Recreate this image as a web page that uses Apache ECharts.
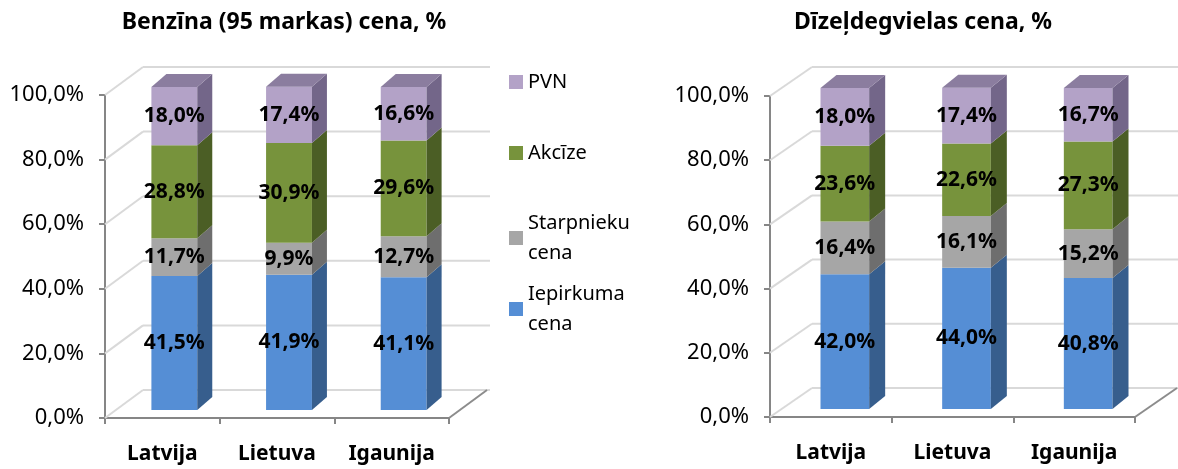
<!DOCTYPE html>
<html>
<head>
<meta charset="utf-8">
<script src="https://cdn.jsdelivr.net/npm/echarts@6/dist/echarts.min.js"></script>
<style>
html, body { margin: 0; padding: 0; background: #fff; }
#main { width: 1178px; height: 469px; }
</style>
</head>
<body>
<div id="main"></div>
<script>
// dati
var countries = ['Latvija', 'Lietuva', 'Igaunija'];
var benzIepirkuma = [41.5, 41.9, 41.1];
var benzStarpnieku = [11.7, 9.9, 12.7];
var benzAkcize = [28.8, 30.9, 29.6];
var benzPvn = [18.0, 17.4, 16.6];
var dizIepirkuma = [42.0, 44.0, 40.8];
var dizStarpnieku = [16.4, 16.1, 15.2];
var dizAkcize = [23.6, 22.6, 27.3];
var dizPvn = [18.0, 17.4, 16.7];
var yTicks = [0, 20, 40, 60, 80, 100];

var FONT = '"Noto Sans", sans-serif';

// 3D izskats katram grafikam: stabiņu nobīde, dziļums, aizmugures siena
var geoLeft = { shift: [12, -8], depth: [15, -13], wall: [38, -28], wallRight: 41 };
var geoRight = { shift: [14, -8], depth: [16, -13], wall: [42, -29], wallRight: 45 };

var colors = {
    iep: { front: '#558ED5', side: '#375E8D' },
    sta: { front: '#A6A6A6', side: '#6E6E6E' },
    akc: { front: '#77933C', side: '#4B5E25' },
    pvn: { front: '#B3A2C7', side: '#736689', top: '#8B7D9F' }
};

function fmt(v) {
    return v.toFixed(1).replace('.', ',');
}

function stackData(layers) {
    // katram slānim [kategorija, sākums, beigas, vērtība]
    var base = countries.map(function () { return 0; });
    return layers.map(function (arr) {
        return arr.map(function (v, i) {
            var row = [i, base[i], base[i] + v, v];
            base[i] += v;
            return row;
        });
    });
}

function segRender(geo, col) {
    return function (params, api) {
        var i = api.value(0), b = api.value(1), e = api.value(2), v = api.value(3);
        var p0 = api.coord([i, b]);
        var p1 = api.coord([i, e]);
        var w = api.size([1, 0])[0] * 0.4;
        var x1 = p0[0] + geo.shift[0] - w / 2;
        var x2 = x1 + w;
        var yb = p0[1] + geo.shift[1];
        var yt = p1[1] + geo.shift[1];
        var dx = geo.depth[0], dy = geo.depth[1];
        var kids = [
            { type: 'rect', shape: { x: x1, y: yt, width: w, height: yb - yt }, style: { fill: col.front } },
            { type: 'polygon', shape: { points: [[x2, yb], [x2, yt], [x2 + dx, yt + dy], [x2 + dx, yb + dy]] }, style: { fill: col.side } }
        ];
        if (col.top) {
            kids.push({ type: 'polygon', shape: { points: [[x1, yt], [x2, yt], [x2 + dx, yt + dy], [x1 + dx, yt + dy]] }, style: { fill: col.top } });
        }
        kids.push({
            type: 'text',
            style: {
                text: fmt(v) + '%', x: (x1 + x2) / 2, y: (yt + yb) / 2,
                align: 'center', verticalAlign: 'middle',
                fontSize: 21, fontWeight: 'bold', fontFamily: FONT, fill: '#000'
            }
        });
        return { type: 'group', children: kids };
    };
}

function wallRender(geo) {
    return function (params, api) {
        var cs = params.coordSys;
        var v = api.value(1);
        var y = api.coord([0, v])[1];
        var left = cs.x, right = cs.x + cs.width;
        var bx = geo.wall[0], by = geo.wall[1];
        var line = { stroke: '#D9D9D9', lineWidth: 2 };
        var kids = [
            { type: 'line', shape: { x1: left, y1: y, x2: left + bx, y2: y + by }, style: line },
            { type: 'line', shape: { x1: left + bx, y1: y + by, x2: right + geo.wallRight, y2: y + by }, style: line }
        ];
        if (v === 0) {
            kids.push({ type: 'line', shape: { x1: right, y1: y, x2: right + bx, y2: y + by }, style: { stroke: '#8C8C8C', lineWidth: 2 } });
        }
        return { type: 'group', children: kids };
    };
}

var names = ['Iepirkuma cena', 'Starpnieku cena', 'Akcīze', 'PVN'];
var keys = ['iep', 'sta', 'akc', 'pvn'];

function makeSeries(idx, geo, layers) {
    var out = [{
        type: 'custom', xAxisIndex: idx, yAxisIndex: idx, silent: true,
        data: yTicks.map(function (t) { return [0, t]; }),
        renderItem: wallRender(geo), z: 1
    }];
    stackData(layers).forEach(function (d, k) {
        out.push({
            type: 'custom', name: names[k], xAxisIndex: idx, yAxisIndex: idx,
            itemStyle: { color: colors[keys[k]].front },
            encode: { x: 0, y: [1, 2] },
            data: d, renderItem: segRender(geo, colors[keys[k]]), z: 3
        });
    });
    return out;
}

function yAxis(idx) {
    return {
        type: 'value', gridIndex: idx, min: 0, max: 100, interval: 20,
        axisLine: { show: true, lineStyle: { color: '#868686', width: 2 } },
        axisTick: { show: true, length: 6, lineStyle: { color: '#868686', width: 2 } },
        splitLine: { show: false },
        axisLabel: { margin: 21, color: '#000', fontSize: 22, fontFamily: FONT,
            formatter: function (v) { return fmt(v) + '%'; } }
    };
}

function xAxis(idx) {
    return {
        type: 'category', gridIndex: idx, data: countries,
        axisLine: { lineStyle: { color: '#868686', width: 2 } },
        axisTick: { show: true, length: 6, interval: 0, lineStyle: { color: '#868686', width: 2 } },
        axisLabel: { margin: 26, interval: 0, hideOverlap: false, color: '#000',
            fontSize: 21, fontWeight: 'bold', fontFamily: FONT }
    };
}

function legendItem(name, top, twoLines) {
    return {
        data: [name], left: 509, top: top, padding: 0, orient: 'vertical',
        icon: 'rect', itemWidth: 14, itemHeight: 14, itemGap: 0,
        formatter: function (n) { return twoLines ? n.replace(' ', '\n') : n; },
        textStyle: { color: '#000', fontSize: 20, fontFamily: FONT, lineHeight: 30,
            padding: twoLines ? [30, 0, 0, 0] : 0 }
    };
}

var chart = echarts.init(document.getElementById('main'));
chart.setOption({
    backgroundColor: '#fff',
    animation: false,
    title: [
        { text: 'Benzīna (95 markas) cena, %', left: 279, top: 6, textAlign: 'center',
          textStyle: { fontSize: 23, fontWeight: 'bold', fontFamily: FONT, color: '#000' } },
        { text: 'Dīzeļdegvielas cena, %', left: 918, top: 6, textAlign: 'center',
          textStyle: { fontSize: 23, fontWeight: 'bold', fontFamily: FONT, color: '#000' } }
    ],
    legend: [
        legendItem('PVN', 67, false),
        legendItem('Akcīze', 138, false),
        legendItem('Starpnieku cena', 193, true),
        legendItem('Iepirkuma cena', 264, true)
    ],
    grid: [
        { left: 105, top: 95, width: 344, height: 323 },
        { left: 770, top: 96, width: 365, height: 321 }
    ],
    xAxis: [xAxis(0), xAxis(1)],
    yAxis: [yAxis(0), yAxis(1)],
    series: makeSeries(0, geoLeft, [benzIepirkuma, benzStarpnieku, benzAkcize, benzPvn])
        .concat(makeSeries(1, geoRight, [dizIepirkuma, dizStarpnieku, dizAkcize, dizPvn]))
});
</script>
</body>
</html>
